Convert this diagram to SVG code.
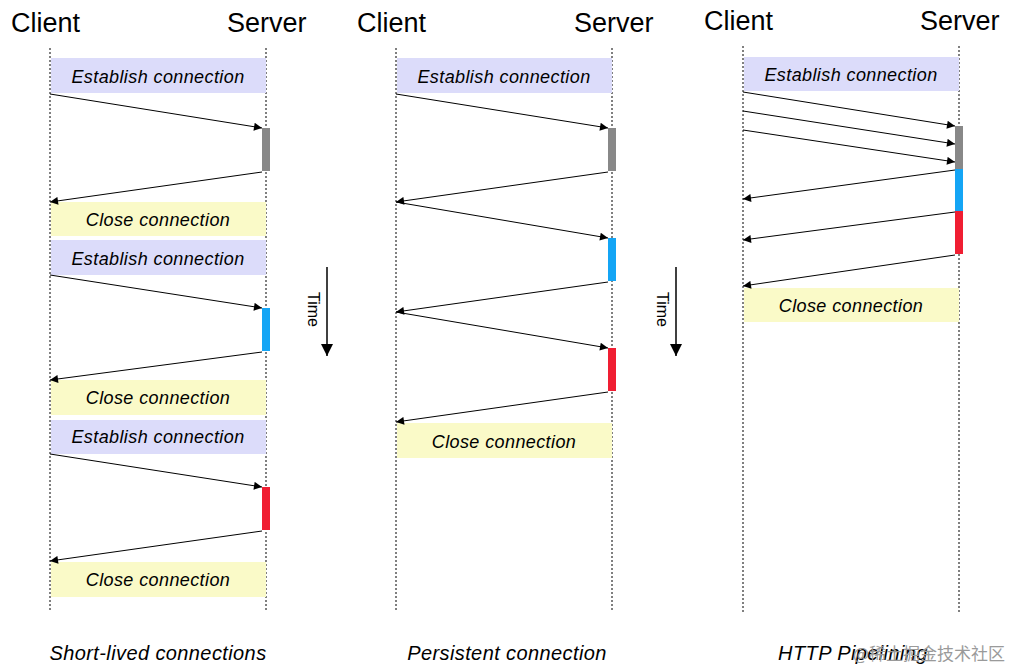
<svg xmlns="http://www.w3.org/2000/svg" width="1012" height="670" viewBox="0 0 1012 670">
<style>
text{font-family:"Liberation Sans",Arial,sans-serif;fill:#000}
.h{font-size:27px}
.b{font-size:18px;font-style:italic;text-anchor:middle;letter-spacing:0.4px}
.c{font-size:20px;font-style:italic;text-anchor:middle;letter-spacing:0.4px}
.est{fill:#dcdcfa}.cls{fill:#fafac8}
.life{stroke:#000;stroke-width:1;stroke-dasharray:2,2}
.msg{stroke:#000;stroke-width:1;fill:none;marker-end:url(#a)}
</style>
<defs><marker id="a" viewBox="0 0 10 10" refX="10" refY="5" markerWidth="12" markerHeight="8" markerUnits="userSpaceOnUse" orient="auto"><path d="M0,0L10,5L0,10z" fill="#000"/></marker>
<marker id="t" viewBox="0 0 10 10" refX="10" refY="5" markerWidth="12" markerHeight="16" markerUnits="userSpaceOnUse" orient="auto"><path d="M0,0L10,5L0,10z" fill="#000"/></marker></defs>
<rect width="1012" height="670" fill="#fff"/>
<g id="headers">
<text class="h" x="11" y="32">Client</text><text class="h" x="227" y="32">Server</text>
<text class="h" x="357" y="32">Client</text><text class="h" x="574" y="32">Server</text>
<text class="h" x="704" y="30">Client</text><text class="h" x="920" y="30">Server</text>
</g>
<g id="lifelines">
<line class="life" x1="50" y1="48" x2="50" y2="612"/><line class="life" x1="266" y1="48" x2="266" y2="612"/>
<line class="life" x1="396" y1="48" x2="396" y2="612"/><line class="life" x1="612" y1="48" x2="612" y2="612"/>
<line class="life" x1="743" y1="46" x2="743" y2="612"/><line class="life" x1="959" y1="46" x2="959" y2="612"/>
</g>
<g id="col1">
<g id="c1e1"><rect class="est" x="51" y="58" width="215" height="35"/><text class="b" x="158" y="83">Establish connection</text></g>
<g id="c1c1"><rect class="cls" x="51" y="202" width="215" height="34"/><text class="b" x="158" y="226">Close connection</text></g>
<g id="c1e2"><rect class="est" x="51" y="240" width="215" height="35"/><text class="b" x="158" y="265">Establish connection</text></g>
<g id="c1c2"><rect class="cls" x="51" y="380" width="215" height="35"/><text class="b" x="158" y="404">Close connection</text></g>
<g id="c1e3"><rect class="est" x="51" y="420" width="215" height="34"/><text class="b" x="158" y="443">Establish connection</text></g>
<g id="c1c3"><rect class="cls" x="51" y="562" width="215" height="35"/><text class="b" x="158" y="586">Close connection</text></g>
<rect x="262" y="128" width="8" height="43" fill="#888"/>
<rect x="262" y="308" width="8" height="43" fill="#14a5f5"/>
<rect x="262" y="487" width="8" height="43" fill="#f01e32"/>
</g>
<g id="col2">
<g id="c2e"><rect class="est" x="397" y="58" width="215" height="35"/><text class="b" x="504" y="83">Establish connection</text></g>
<g id="c2c"><rect class="cls" x="397" y="423" width="215" height="35"/><text class="b" x="504" y="448">Close connection</text></g>
<rect x="608" y="128" width="8" height="43" fill="#888"/>
<rect x="608" y="238" width="8" height="43" fill="#14a5f5"/>
<rect x="608" y="348" width="8" height="43" fill="#f01e32"/>
</g>
<g id="col3">
<g id="c3e"><rect class="est" x="744" y="57" width="215" height="34"/><text class="b" x="851" y="81">Establish connection</text></g>
<g id="c3c"><rect class="cls" x="744" y="288" width="215" height="34"/><text class="b" x="851" y="312">Close connection</text></g>
<rect x="955" y="126" width="8" height="43" fill="#888"/>
<rect x="955" y="169" width="8" height="42" fill="#14a5f5"/>
<rect x="955" y="211" width="8" height="43" fill="#f01e32"/>
</g>
<g id="connectors">
<line class="msg" x1="50" y1="94" x2="262" y2="128"/>
<line class="msg" x1="262" y1="172" x2="50" y2="202"/>
<line class="msg" x1="50" y1="275" x2="262" y2="308"/>
<line class="msg" x1="262" y1="352" x2="50" y2="380"/>
<line class="msg" x1="50" y1="454" x2="262" y2="487"/>
<line class="msg" x1="262" y1="531" x2="50" y2="561"/>
<line class="msg" x1="396" y1="94" x2="608" y2="128"/>
<line class="msg" x1="608" y1="172" x2="396" y2="202"/>
<line class="msg" x1="396" y1="202" x2="608" y2="238"/>
<line class="msg" x1="608" y1="282" x2="396" y2="312"/>
<line class="msg" x1="396" y1="312" x2="608" y2="348"/>
<line class="msg" x1="608" y1="392" x2="396" y2="422"/>
<line class="msg" x1="743" y1="92" x2="955" y2="126"/>
<line class="msg" x1="743" y1="111" x2="955" y2="144"/>
<line class="msg" x1="743" y1="130" x2="955" y2="162"/>
<line class="msg" x1="955" y1="170" x2="743" y2="199"/>
<line class="msg" x1="955" y1="212" x2="743" y2="240"/>
<line class="msg" x1="955" y1="255" x2="743" y2="286"/>
</g>
<g id="time1"><line x1="327" y1="267" x2="327" y2="356" stroke="#000" stroke-width="1.5" marker-end="url(#t)"/><text x="0" y="0" font-size="16" transform="translate(308,292) rotate(90)">Time</text></g>
<g id="time2"><line x1="676" y1="267" x2="676" y2="356" stroke="#000" stroke-width="1.5" marker-end="url(#t)"/><text x="0" y="0" font-size="16" transform="translate(657,292) rotate(90)">Time</text></g>
<g id="captions">
<text class="c" x="158" y="660">Short-lived connections</text>
<text class="c" x="507" y="660">Persistent connection</text>
<text class="c" x="853" y="660">HTTP Pipelining</text>
<text x="1005" y="660" font-size="17" style="fill:#9a9a9a;text-anchor:end;font-family:'Noto Sans CJK SC',sans-serif">@稀土掘金技术社区</text>
</g>
</svg>
